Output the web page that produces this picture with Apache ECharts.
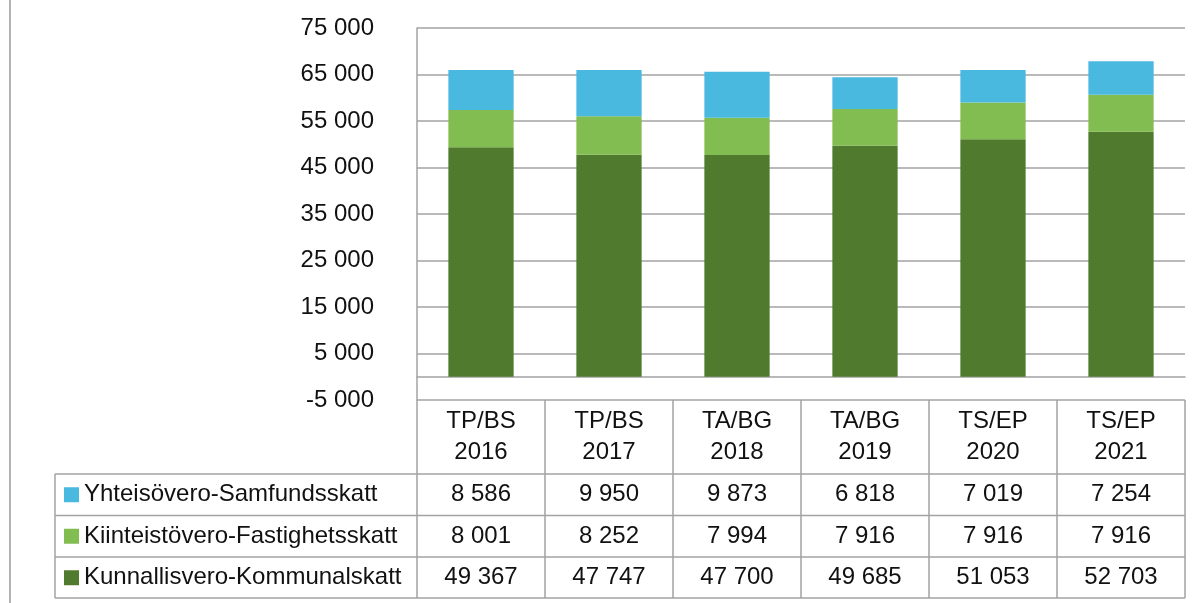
<!DOCTYPE html>
<html>
<head>
<meta charset="utf-8">
<script src="https://cdn.jsdelivr.net/npm/echarts@6/dist/echarts.min.js"></script>
<style>
    html, body { margin: 0; padding: 0; background: #fff; }
    #main { width: 1200px; height: 603px; }
</style>
</head>
<body>
<div id="main"></div>
<script>
var categories = ['TP/BS\n2016', 'TP/BS\n2017', 'TA/BG\n2018', 'TA/BG\n2019', 'TS/EP\n2020', 'TS/EP\n2021'];
var seriesNames = ['Yhteisövero-Samfundsskatt', 'Kiinteistövero-Fastighetsskatt', 'Kunnallisvero-Kommunalskatt'];
var yhteisovero = [8586, 9950, 9873, 6818, 7019, 7254];
var kiinteistovero = [8001, 8252, 7994, 7916, 7916, 7916];
var kunnallisvero = [49367, 47747, 47700, 49685, 51053, 52703];
var colors = ['#4ab9df', '#82bd51', '#507a2e'];

// layout
var gridLeft = 417, gridRight = 1185, gridTop = 28, gridBottom = 400;
var tableLeft = 55;
var rowLines = [474, 515.5, 557, 598];
var lineColor = '#a3a3a3';
var font = 'Liberation Sans';

function fmt(v) {
    return String(v).replace(/\B(?=(\d{3})+(?!\d))/g, ' ');
}

function rowAxis(values, center) {
    return {
        type: 'category',
        position: 'bottom',
        data: values.map(fmt),
        axisLine: { show: false, onZero: false },
        axisTick: { show: false },
        axisLabel: {
            margin: center - gridBottom,
            verticalAlign: 'middle',
            fontFamily: font,
            fontSize: 24,
            color: '#111'
        }
    };
}

var graphics = [];
function hline(y, x1, x2) {
    graphics.push({ type: 'line', silent: true, shape: { x1: x1, y1: y, x2: x2, y2: y }, style: { stroke: lineColor, lineWidth: 1.5 } });
}
function vline(x, y1, y2, color, w) {
    graphics.push({ type: 'line', silent: true, shape: { x1: x, y1: y1, x2: x, y2: y2 }, style: { stroke: color || lineColor, lineWidth: w || 1.5 } });
}
for (var i in rowLines) {
    hline(rowLines[i], tableLeft, gridRight);
}
vline(tableLeft, rowLines[0], rowLines[3]);
vline(10, 0, 603, '#b3b3b3', 2);

var rowCenters = [(rowLines[0] + rowLines[1]) / 2, (rowLines[1] + rowLines[2]) / 2, (rowLines[2] + rowLines[3]) / 2];

var option = {
    animation: false,
    grid: {
        left: gridLeft,
        right: 1200 - gridRight,
        top: gridTop,
        bottom: 603 - gridBottom
    },
    legend: {
        data: seriesNames,
        orient: 'vertical',
        left: 64,
        top: rowLines[0],
        padding: 0,
        itemGap: 0,
        itemWidth: 15,
        itemHeight: 15,
        icon: 'rect',
        selectedMode: false,
        textStyle: {
            fontFamily: font,
            fontSize: 24,
            color: '#111',
            lineHeight: rowLines[1] - rowLines[0]
        }
    },
    xAxis: [
        {
            // zero line
            type: 'category',
            data: categories,
            axisLine: { onZero: true, lineStyle: { color: lineColor, width: 1.5 } },
            axisTick: { show: false },
            axisLabel: { show: false }
        },
        {
            type: 'category',
            position: 'bottom',
            data: categories,
            axisLine: { show: false, onZero: false },
            axisTick: { show: true, length: rowLines[3] - gridBottom, lineStyle: { color: lineColor, width: 1.5 } },
            axisLabel: {
                margin: (gridBottom + rowLines[0]) / 2 - gridBottom,
                verticalAlign: 'middle',
                lineHeight: 31,
                fontFamily: font,
                fontSize: 24,
                color: '#111'
            }
        },
        rowAxis(yhteisovero, rowCenters[0]),
        rowAxis(kiinteistovero, rowCenters[1]),
        rowAxis(kunnallisvero, rowCenters[2])
    ],
    yAxis: {
        type: 'value',
        min: -5000,
        max: 75000,
        interval: 10000,
        axisLine: { show: true, lineStyle: { color: lineColor, width: 1.5 } },
        axisTick: { show: false },
        splitLine: { lineStyle: { color: lineColor, width: 1.5 } },
        axisLabel: {
            margin: 43,
            fontFamily: font,
            fontSize: 24,
            color: '#111',
            formatter: function (v) { return v < 0 ? '-' + fmt(-v) : fmt(v); }
        }
    },
    series: [
        {
            name: seriesNames[2],
            type: 'bar',
            stack: 'vero',
            barWidth: '51%',
            itemStyle: { color: colors[2] },
            data: kunnallisvero
        },
        {
            name: seriesNames[1],
            type: 'bar',
            stack: 'vero',
            barWidth: '51%',
            itemStyle: { color: colors[1] },
            data: kiinteistovero
        },
        {
            name: seriesNames[0],
            type: 'bar',
            stack: 'vero',
            barWidth: '51%',
            itemStyle: { color: colors[0] },
            data: yhteisovero
        }
    ],
    graphic: graphics
};

var chart = echarts.init(document.getElementById('main'));
chart.setOption(option);
</script>
</body>
</html>
